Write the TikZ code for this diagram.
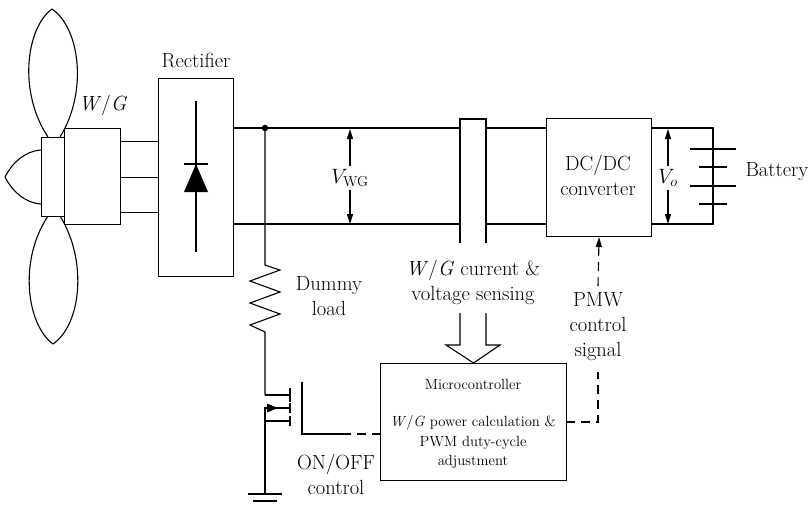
\documentclass[tikz,border=0pt]{standalone}
\usetikzlibrary{arrows.meta}
\begin{document}
\begin{tikzpicture}[x=1pt,y=-1pt,line width=1.1pt,line join=miter,
  lbl/.style={font=\fontsize{20.5}{25}\selectfont,align=center,inner sep=1pt},
  smalltxt/.style={font=\fontsize{14.7}{19.5}\selectfont,align=center,inner sep=1pt},
  dsh/.style={dash pattern=on 9pt off 6pt},
  tipped/.style={-{Triangle[length=10pt,width=6pt]}},
  twotip/.style={{Triangle[length=10pt,width=6pt]}-{Triangle[length=10pt,width=6pt]}},
  blk/.style={draw,fill=white,inner sep=0pt,anchor=north west}]
\useasboundingbox (0,0) rectangle (811,507);

% ---------- wind turbine: blades, nose cone, hub ----------
\draw (52,9) .. controls (26,28) and (18,92) .. (48,137);
\draw (52,9) .. controls (80,28) and (88,92) .. (60,137);
\draw (53,344) .. controls (27,325) and (18,261) .. (48,216);
\draw (53,344) .. controls (81,325) and (88,261) .. (60,216);
\draw (41,150) .. controls (25,151) and (12,163) .. (5,177)
      .. controls (12,191) and (25,203) .. (41,204);
\node[blk,minimum width=23pt,minimum height=79pt] (hub) at (41,137) {};
\node[blk,minimum width=56pt,minimum height=96pt] (gen) at (64,128) {};
\node[blk,minimum width=38pt,minimum height=71pt] (coupler) at (120,141) {};
\draw (coupler.west) -- (coupler.east);
\node[lbl] (wglbl) at (103,105) {\textit{W}/\textit{G}};

% ---------- rectifier ----------
\node[blk,minimum width=75pt,minimum height=198pt] (rect) at (158,78) {};
\node[lbl] (rectlbl) at (196,60) {Rectifier};
\draw (196,101) -- (196,252);
\fill (196,164) -- (184,192) -- (208,192) -- cycle;
\draw (184,164) -- (208,164);

% ---------- DC bus ----------
\coordinate (ta) at (233,128);
\coordinate (ba) at (233,224);
\coordinate (tap) at (265,128);
\node[blk,minimum width=105pt,minimum height=118pt] (dcdc) at (546,118) {};
\node[lbl] (dcdclbl) at (598,175) {DC/DC\\converter};
\coordinate (tb) at (546,128);
\coordinate (bb) at (546,224);
\draw (ta) -- (tb);
\draw (ba) -- (bb);
\fill (tap) circle (3.2pt);

% V_WG
\coordinate (vwgt) at (350,129);
\coordinate (vwgb) at (350,224);
\draw[twotip] (vwgt) -- (vwgb);
\node[lbl,fill=white,inner sep=3pt] (vwg) at (350,178) {$V_{\mathrm{WG}}$};

% current / voltage sensor clamp
\fill[white] (460,119) rectangle (486,243);
\coordinate (cl1) at (460,243);
\coordinate (cl2) at (486,243);
\draw[line width=1.5pt] (cl1) -- (460,119) -- (486,119) -- (cl2);
\node[lbl] (senslbl) at (473,282) {\textit{W}/\textit{G} current \&\\voltage sensing};

% hollow arrow into the microcontroller
\node[blk,minimum width=186pt,minimum height=117pt] (mcu) at (380,363) {};
\draw (460,313) -- (460,345) -- (446,345) -- (mcu.north) -- (500,345) -- (486,345) -- (486,313);
\node[smalltxt] (mcutitle) at (473,384) {Microcontroller};
\node[smalltxt] (mcutext) at (473,442) {\textit{W}/\textit{G} power calculation \&\\PWM duty-cycle\\adjustment};

% ---------- output side and battery ----------
\coordinate (to) at (651,128);
\coordinate (bo) at (651,224);
\coordinate (tr) at (713,128);
\coordinate (br) at (713,224);
\draw (to) -- (tr) -- (br) -- (bo);
\draw[twotip] (668,129) -- (668,224);
\node[lbl,fill=white,inner sep=3pt] (vo) at (668,178) {$V_o$};
\draw (690,149) -- (736,149);
\draw (699,167) -- (727,167);
\draw[line width=1.6pt] (690,186) -- (736,186);
\draw (699,204) -- (727,204);
\node[lbl,anchor=west] (batlbl) at (744,172) {Battery};

% PWM control signal
\coordinate (pwmout) at (566,422);
\coordinate (pwmc) at (598,422);
\draw[dsh] (pwmout) -- (pwmc) -- (598,372);
\draw[dsh,tipped] (598,286) -- (dcdc.south);
\node[lbl] (pwmlbl) at (598,327) {PMW\\control\\signal};

% ---------- dummy load branch ----------
\coordinate (rtop) at (265,265);
\coordinate (rbot) at (265,332);
\coordinate (drain) at (265,395);
\draw (tap) -- (rtop) -- (280,270) -- (250,281) -- (280,292) -- (250,303)
      -- (280,314) -- (250,325) -- (rbot) -- (drain);
\node[lbl] (dummylbl) at (329,296) {Dummy\\load};

% MOSFET switch
\draw[line width=1.6pt] (drain) -- (290,395);
\draw (290,388) -- (290,402);
\draw (290,403) -- (290,413);
\draw (290,416) -- (290,426);
\coordinate (src) at (265,408);
\coordinate (gnd) at (265,494);
\draw (290,408) -- (src) -- (gnd);
\draw (265,421) -- (290,421);
\fill (278,408) -- (267,403.5) -- (267,412.5) -- cycle;
\draw (248,494) -- (282,494);
\draw (253,501) -- (277,501);

% gate drive from the microcontroller
\coordinate (gtop) at (302,382);
\coordinate (gcorner) at (302,434);
\coordinate (gmid) at (342,434);
\coordinate (gin) at (380,434);
\draw (gtop) -- (gcorner) -- (gmid);
\draw[dsh] (gmid) -- (gin);
\node[lbl] (onofflbl) at (336,474) {ON/OFF\\control};
\end{tikzpicture}
\end{document}
